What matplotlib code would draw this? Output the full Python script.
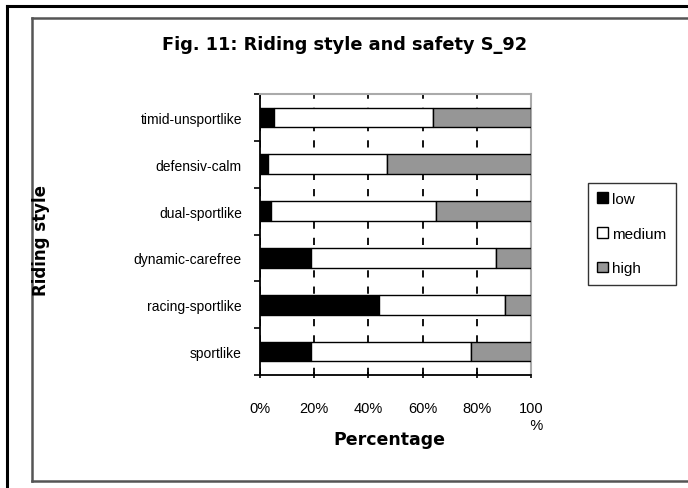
import matplotlib
matplotlib.use("Agg")
import matplotlib.pyplot as plt
from matplotlib.lines import Line2D
from matplotlib.ticker import FixedLocator
import numpy as np

plt.rcParams['font.family'] = ['Liberation Sans', 'DejaVu Sans']

categories = ["timid-unsportlike", "defensiv-calm", "dual-sportlike",
              "dynamic-carefree", "racing-sportlike", "sportlike"]
low = [5, 3, 4, 19, 44, 19]
medium = [59, 44, 61, 68, 46.5, 59]
high = [36, 53, 35, 13, 9.5, 22]
series_names = ["low", "medium", "high"]
series_colors = ["#000000", "#ffffff", "#969696"]
xtick_labels = ["0%", "20%", "40%", "60%", "80%", "100\n   %"]
title = "Fig. 11: Riding style and safety S_92"

W, H = 688, 489
fig = plt.figure(figsize=(W / 100, H / 100), dpi=100)

def fx(x): return x / W
def fy(y): return 1 - y / H

# frames
fig.add_artist(Line2D([fx(7), fx(7)], [fy(7), fy(489)], color="black", lw=2.2))
fig.add_artist(Line2D([fx(7), fx(688)], [fy(7), fy(7)], color="black", lw=2.2))
fig.add_artist(Line2D([fx(32), fx(32)], [fy(19), fy(482)], color="#555555", lw=1.8))
fig.add_artist(Line2D([fx(32), fx(688)], [fy(19), fy(19)], color="#555555", lw=1.8))
fig.add_artist(Line2D([fx(32), fx(688)], [fy(482), fy(482)], color="#555555", lw=1.8))

left, right, top, bottom = 260, 531, 95, 376
ax = fig.add_axes([fx(left), fy(bottom), (right - left) / W, (bottom - top) / H])

y = np.arange(len(categories))
data = [low, medium, high]
lefts = np.zeros(len(categories))
handles = []
for vals, name, col in zip(data, series_names, series_colors):
    b = ax.barh(y, vals, left=lefts, height=0.42, color=col, edgecolor="black",
                linewidth=1.0, label=name, zorder=3)
    handles.append(b)
    lefts = lefts + np.array(vals)

ax.set_xlim(0, 100)
ax.set_ylim(len(categories) - 0.5, -0.5)
ax.set_yticks(y)
ax.set_yticklabels(categories, fontsize=10)
ax.yaxis.set_minor_locator(FixedLocator(np.arange(-0.5, len(categories), 1)))
ax.tick_params(axis="y", which="major", length=0, pad=13)
ax.tick_params(axis="y", which="minor", length=4, width=1.2, direction="out")
ax.set_xticks([0, 20, 40, 60, 80, 100])
ax.set_xticklabels(xtick_labels, fontsize=10.5, va="top")
for lab in ax.get_xticklabels():
    if "\n" in lab.get_text():
        lab.set_ha("center")
        lab.set_multialignment("right")
ax.tick_params(axis="x", length=4, width=1.2, direction="inout", pad=17)

ax.grid(axis="x", color="black", linestyle=(0, (4, 5)), linewidth=1.3, zorder=0)
ax.set_axisbelow(True)

ax.spines["left"].set_linewidth(1.3)
ax.spines["bottom"].set_linewidth(1.3)
ax.spines["top"].set_color("#aaaaaa")
ax.spines["right"].set_color("#aaaaaa")
ax.spines["top"].set_linewidth(1.5)
ax.spines["right"].set_linewidth(1.5)

bold = dict(fontweight="bold", family=["DejaVu Sans"])
fig.text(fx(389), fy(440), "Percentage", fontsize=12.5, ha="center", va="center", **bold)
fig.text(fx(41), fy(240), "Riding style", fontsize=12, rotation=90, ha="center", va="center", **bold)
fig.text(fx(345), fy(45), title, fontsize=12.8, ha="center", va="center", **bold)

leg = fig.legend(handles=handles, labels=series_names, loc="upper left",
                 bbox_to_anchor=(fx(588), fy(184)), fontsize=11, frameon=True,
                 fancybox=False, edgecolor="black", handlelength=0.7, handleheight=0.7,
                 handletextpad=0.3, labelspacing=1.35, borderpad=0.6, borderaxespad=0)
leg.get_frame().set_linewidth(1.0)

fig.savefig("out.png", dpi=100)
